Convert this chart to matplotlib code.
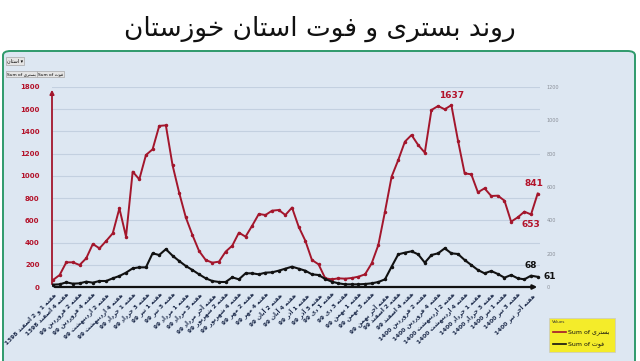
import matplotlib
matplotlib.use("Agg")
import matplotlib.pyplot as plt
from matplotlib.patches import FancyBboxPatch, Rectangle

# --- simple Persian shaping (matplotlib has no bidi / joining) ---
FORMS = {
    'ا': ('\uFE8D', '\uFE8E', None, None),
    'آ': ('\uFE81', '\uFE82', None, None),
    'د': ('\uFEA9', '\uFEAA', None, None),
    'ذ': ('\uFEAB', '\uFEAC', None, None),
    'ر': ('\uFEAD', '\uFEAE', None, None),
    'ز': ('\uFEAF', '\uFEB0', None, None),
    'و': ('\uFEED', '\uFEEE', None, None),
    'ب': ('\uFE8F', '\uFE90', '\uFE91', '\uFE92'),
    'ت': ('\uFE95', '\uFE96', '\uFE97', '\uFE98'),
    'خ': ('\uFEA5', '\uFEA6', '\uFEA7', '\uFEA8'),
    'س': ('\uFEB1', '\uFEB2', '\uFEB3', '\uFEB4'),
    'ش': ('\uFEB5', '\uFEB6', '\uFEB7', '\uFEB8'),
    'ف': ('\uFED1', '\uFED2', '\uFED3', '\uFED4'),
    'م': ('\uFEE1', '\uFEE2', '\uFEE3', '\uFEE4'),
    'ن': ('\uFEE5', '\uFEE6', '\uFEE7', '\uFEE8'),
    'ه': ('\uFEE9', '\uFEEA', '\uFEEB', '\uFEEC'),
    'ی': ('\uFEEF', '\uFEF0', '\uFEF3', '\uFEF4'),
}


def shape_word(w):
    if not any(c in FORMS for c in w):
        return w
    out = []
    for i, c in enumerate(w):
        f = FORMS.get(c)
        if f is None:
            out.append(c)
            continue
        prev = w[i - 1] if i > 0 else None
        nxt = w[i + 1] if i < len(w) - 1 else None
        join_prev = prev in FORMS and FORMS[prev][2] is not None
        join_next = f[2] is not None and nxt in FORMS
        if join_prev and join_next:
            out.append(f[3])
        elif join_prev:
            out.append(f[1])
        elif join_next:
            out.append(f[2])
        else:
            out.append(f[0])
    return ''.join(reversed(out))


def fa(text):
    return ' '.join(shape_word(w) for w in reversed(text.split(' ')))


# --- data ---
weeks = [
    'هفته 1 و 2 اسفند 1398', 'هفته 3 اسفند 1398', 'هفته 4 اسفند 1398', 'هفته 1 فروردین 99',
    'هفته 2 فروردین 99', 'هفته 3 فروردین 99', 'هفته 4 فروردین 99', 'هفته 1 اردیبهشت 99',
    'هفته 2 اردیبهشت 99', 'هفته 3 اردیبهشت 99', 'هفته 4 اردیبهشت 99', 'هفته آخر اردیبهشت 99',
    'هفته 1 خرداد 99', 'هفته 2 خرداد 99', 'هفته 3 خرداد 99', 'هفته 4 خرداد 99',
    'هفته 1 تیر 99', 'هفته 2 تیر 99', 'هفته 3 تیر 99', 'هفته 4 تیر 99',
    'هفته 1 مرداد 99', 'هفته 2 مرداد 99', 'هفته 3 مرداد 99', 'هفته 4 مرداد 99',
    'هفته آخر مرداد 99', 'هفته 1 شهریور 99', 'هفته 2 شهریور 99', 'هفته 3 شهریور 99',
    'هفته 4 شهریور 99', 'هفته 1 مهر 99', 'هفته 2 مهر 99', 'هفته 3 مهر 99',
    'هفته 4 مهر 99', 'هفته 1 آبان 99', 'هفته 2 آبان 99', 'هفته 3 آبان 99',
    'هفته 4 آبان 99', 'هفته آخر آبان 99', 'هفته 1 آذر 99', 'هفته 2 آذر 99',
    'هفته 3 آذر 99', 'هفته 4 آذر 99', 'هفته 1 دی 99', 'هفته 2 دی 99',
    'هفته 3 دی 99', 'هفته 4 دی 99', 'هفته 1 بهمن 99', 'هفته 2 بهمن 99',
    'هفته 3 بهمن 99', 'هفته 4 بهمن 99', 'هفته آخر بهمن 99', 'هفته 1 اسفند 99',
    'هفته 2 اسفند 99', 'هفته 3 اسفند 99', 'هفته 4 اسفند 99', 'هفته 1 فروردین 1400',
    'هفته 2 فروردین 1400', 'هفته 3 فروردین 1400', 'هفته 4 فروردین 1400', 'هفته 1 اردیبهشت 1400',
    'هفته 2 اردیبهشت 1400', 'هفته 3 اردیبهشت 1400', 'هفته 4 اردیبهشت 1400', 'هفته آخر اردیبهشت 1400',
    'هفته 1 خرداد 1400', 'هفته 2 خرداد 1400', 'هفته 3 خرداد 1400', 'هفته 4 خرداد 1400',
    'هفته 1 تیر 1400', 'هفته 2 تیر 1400', 'هفته 3 تیر 1400', 'هفته 4 تیر 1400',
    'هفته آخر تیر 1400', 'هفته 1 مرداد 1400',
]

hospitalized = [
    63, 108, 222, 222, 198, 258, 387, 348, 414, 483,
    708, 453, 1038, 969, 1188, 1239, 1450, 1455, 1098, 849,
    627, 468, 324, 243, 219, 228, 318, 372, 489, 453,
    552, 657, 648, 687, 693, 648, 715, 543, 417, 243,
    204, 78, 69, 78, 75, 81, 93, 114, 213, 378,
    678, 993, 1143, 1308, 1368, 1278, 1209, 1593, 1629, 1599,
    1637, 1317, 1023, 1014, 852, 888, 819, 822, 777, 588,
    627, 678, 653, 841,
]

deaths = [
    14, 16, 28, 20, 22, 32, 26, 36, 36, 52,
    66, 86, 112, 118, 118, 202, 192, 227, 188, 156,
    126, 102, 76, 52, 36, 30, 30, 58, 46, 82,
    82, 76, 86, 88, 98, 110, 122, 110, 98, 76,
    72, 48, 32, 22, 16, 16, 16, 18, 22, 30,
    46, 122, 196, 206, 214, 196, 146, 192, 202, 232,
    202, 198, 162, 132, 102, 82, 96, 78, 56, 72,
    52, 46, 68, 61,
]

RED = '#a3162c'
RED_TXT = '#b3122a'
NAVY = '#1c2a4a'

x = list(range(len(weeks)))

fig = plt.figure(figsize=(6.4, 3.61), dpi=100)
fig.patch.set_facecolor('white')

# excel chart panel
panel = FancyBboxPatch((3 / 640, -0.05), 632 / 640, 0.05 + 310 / 361,
                       boxstyle='round,pad=0,rounding_size=0.012',
                       transform=fig.transFigure, facecolor='#dde7f2',
                       edgecolor='#2f9a6c', linewidth=1.4, zorder=-1)
fig.patches.append(panel)

fig.text(0.5, 1 - 29 / 361, fa('روند بستری و فوت استان خوزستان'),
         ha='center', va='center', fontsize=19, color='#111111')

# pivot-chart field buttons
btn = dict(boxstyle='square,pad=0.25', facecolor='#e4e4e4', edgecolor='#a8a8a8', linewidth=0.5)
fig.text(7 / 640, 1 - 61 / 361, fa('استان') + ' \u25BE', fontsize=3.5, va='center', bbox=btn)
fig.text(7 / 640, 1 - 74 / 361, 'Sum of ' + fa('بستری'), fontsize=3.2, va='center', bbox=btn)
fig.text(38 / 640, 1 - 74 / 361, 'Sum of ' + fa('فوت'), fontsize=3.2, va='center', bbox=btn)

ax = fig.add_axes([52 / 640, 74 / 361, 488 / 640, 200 / 361])
ax.set_facecolor('none')
ax2 = ax.twinx()

ax.plot(x, hospitalized, color=RED, lw=1.4, marker='o', ms=1.5, zorder=3)
ax2.plot(x, deaths, color='#111111', lw=1.5, marker='o', ms=1.5, zorder=3)

ax.set_xlim(-0.15, 73.35)
ax.set_ylim(0, 1800)
ax2.set_ylim(0, 1200)
ax.set_yticks(range(0, 1801, 200))
ax2.set_yticks(range(0, 1201, 200))
ax.grid(axis='y', color='#c3d0e0', lw=0.8)
ax.set_axisbelow(True)

for a in (ax, ax2):
    for s in a.spines.values():
        s.set_visible(False)

ax.tick_params(axis='y', length=0, pad=9, labelsize=5, labelcolor=RED_TXT)
for t in ax.get_yticklabels():
    t.set_fontweight('bold')
ax2.tick_params(axis='y', length=0, pad=5, labelsize=3.5, labelcolor='#8a8f98')

ax.set_xticks(x[::2])
ax.set_xticklabels([fa(w) for w in weeks[::2]], rotation=45, ha='right',
                   rotation_mode='anchor', fontsize=4.2, color=NAVY, fontweight='bold')
ax.tick_params(axis='x', length=0, pad=3)

# axis arrows
ax.annotate('', xy=(0, 1.0), xytext=(0, 0), xycoords='axes fraction',
            arrowprops=dict(arrowstyle='-|>', color=RED, lw=1.3, mutation_scale=6))
ax.annotate('', xy=(1.0, 0), xytext=(0, 0), xycoords='axes fraction',
            arrowprops=dict(arrowstyle='-|>', color='#111111', lw=1.6, mutation_scale=6))

# data labels
lab = dict(fontsize=6.5, fontweight='bold', ha='center')
ax.annotate(str(hospitalized[60]), (60, hospitalized[60]), xytext=(0, 4),
            textcoords='offset points', va='bottom', color=RED_TXT, **lab)
ax.annotate(str(hospitalized[73]), (73, hospitalized[73]), xytext=(-3, 4),
            textcoords='offset points', va='bottom', color=RED_TXT, **lab)
ax.annotate(str(hospitalized[72]), (72, hospitalized[72]), xytext=(0, -4),
            textcoords='offset points', va='top', color=RED_TXT, **lab)
ax2.annotate(str(deaths[72]), (72, deaths[72]), xytext=(0, 4),
             textcoords='offset points', va='bottom', color='#111111', **lab)
ax2.annotate(str(deaths[73]), (73, deaths[73]), xytext=(4, 0),
             textcoords='offset points', va='center', color='#111111',
             fontsize=6.5, fontweight='bold', ha='left')

# yellow legend box (excel "Values" field area)
fig.patches.append(Rectangle((549 / 640, 1 - 352 / 361), 66 / 640, 34 / 361,
                             transform=fig.transFigure, facecolor='#f4ec2a',
                             edgecolor='#c9c9c9', lw=0.5, zorder=5))
fig.text(552 / 640, 1 - 323 / 361, 'Values', fontsize=3, color='#333333', zorder=6)
fig.lines.append(plt.Line2D([553 / 640, 566 / 640], [1 - 332 / 361] * 2,
                            transform=fig.transFigure, color=RED, lw=1.2, zorder=6))
fig.lines.append(plt.Line2D([553 / 640, 566 / 640], [1 - 344 / 361] * 2,
                            transform=fig.transFigure, color='#111111', lw=1.2, zorder=6))
fig.text(568 / 640, 1 - 332 / 361, 'Sum of ' + fa('بستری'), fontsize=4.5,
         va='center', color='#111111', zorder=6)
fig.text(568 / 640, 1 - 344 / 361, 'Sum of ' + fa('فوت'), fontsize=4.5,
         va='center', color='#111111', zorder=6)

fig.savefig('out.png', dpi=100)
